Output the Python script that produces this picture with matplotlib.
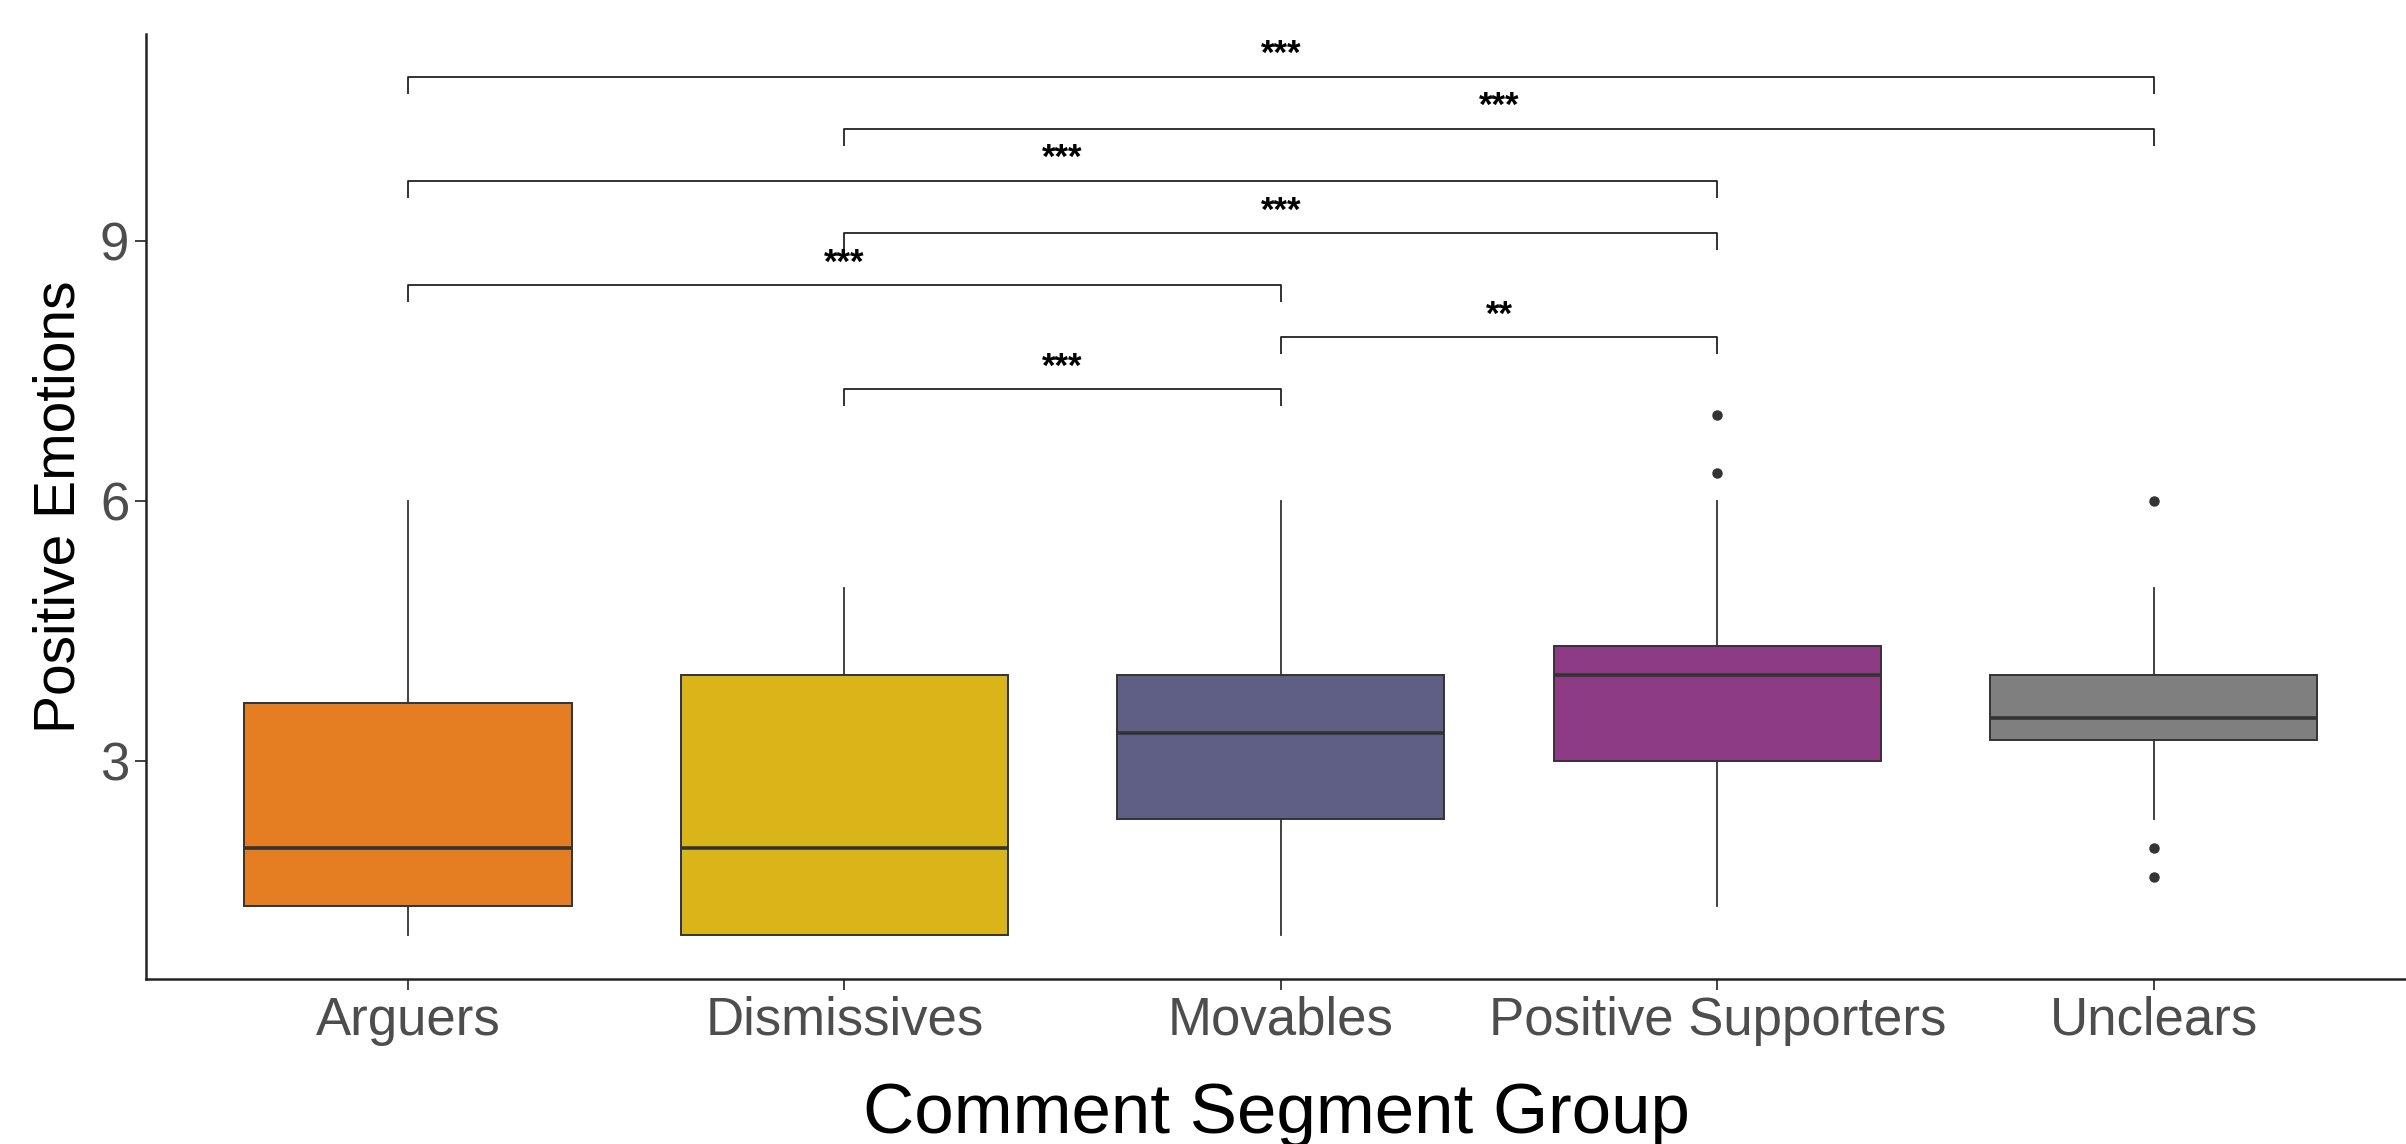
import matplotlib
matplotlib.use("Agg")
import matplotlib.pyplot as plt

plt.rcParams['font.family'] = ['Liberation Sans', 'DejaVu Sans']

# groups and box statistics
groups = ["Arguers", "Dismissives", "Movables", "Positive Supporters", "Unclears"]
colours = ["#E57E23", "#D9B519", "#5F5F85", "#8E3B85", "#7F7F7F"]
whis_lo = [1.0, 1.0, 1.0, 1.33, 2.33]
q1 = [1.33, 1.0, 2.33, 3.0, 3.25]
median = [2.0, 2.0, 3.33, 4.0, 3.5]
q3 = [3.67, 4.0, 4.0, 4.33, 4.0]
whis_hi = [6.0, 5.0, 6.0, 6.0, 5.0]
outliers = [[], [], [], [6.33, 7.0], [6.0, 2.0, 1.67]]

# significance brackets (group a, group b, height, label)
pairs = [(1, 5), (2, 5), (1, 4), (2, 4), (1, 3), (3, 4), (2, 3)]
heights = [10.89, 10.29, 9.69, 9.09, 8.49, 7.89, 7.29]
labels = ["***", "***", "***", "***", "***", "**", "***"]

W, H = 2406, 1144
fig = plt.figure(figsize=(W / 100, H / 100), dpi=100)
ax = fig.add_axes([146 / W, 1 - 979 / H, (W - 146) / W, (979 - 34) / H])

stats = []
for i in range(len(groups)):
    stats.append(dict(med=median[i], q1=q1[i], q3=q3[i], whislo=whis_lo[i],
                      whishi=whis_hi[i], fliers=outliers[i], label=groups[i]))

bp = ax.bxp(stats, positions=range(1, 6), widths=0.75, patch_artist=True,
            showcaps=False,
            boxprops=dict(edgecolor="#333333", linewidth=1.4),
            medianprops=dict(color="#333333", linewidth=2.6),
            whiskerprops=dict(color="#333333", linewidth=1.3),
            flierprops=dict(marker="o", markerfacecolor="#333333",
                            markeredgecolor="#333333", markersize=6.5))
for patch, c in zip(bp["boxes"], colours):
    patch.set_facecolor(c)

tip = 0.19
for (a, b), h, lab in zip(pairs, heights, labels):
    ax.plot([a, a, b, b], [h - tip, h, h, h - tip], color="#222222", lw=1.3,
            solid_capstyle="butt")
    ax.text((a + b) / 2, h + 0.26, lab, ha="center", va="center",
            fontsize=25, fontweight="bold", color="black")

ax.set_xlim(0.4, 5.578)
ax.set_ylim(0.49, 11.39)
ax.set_yticks([3, 6, 9])
ax.set_xticks(range(1, 6))
ax.set_xticklabels(groups)
ax.tick_params(axis="both", labelsize=38, colors="#4D4D4D", length=8,
               width=1.3, pad=4)
ax.tick_params(axis="both", color="#333333")
for s in ["top", "right"]:
    ax.spines[s].set_visible(False)
for s in ["left", "bottom"]:
    ax.spines[s].set_linewidth(1.8)
    ax.spines[s].set_color("#222222")

ax.set_xlabel("Comment Segment Group", fontsize=51, labelpad=26)
ax.set_ylabel("Positive Emotions", fontsize=41, labelpad=10)

fig.savefig("out.png", dpi=100, facecolor="white")
